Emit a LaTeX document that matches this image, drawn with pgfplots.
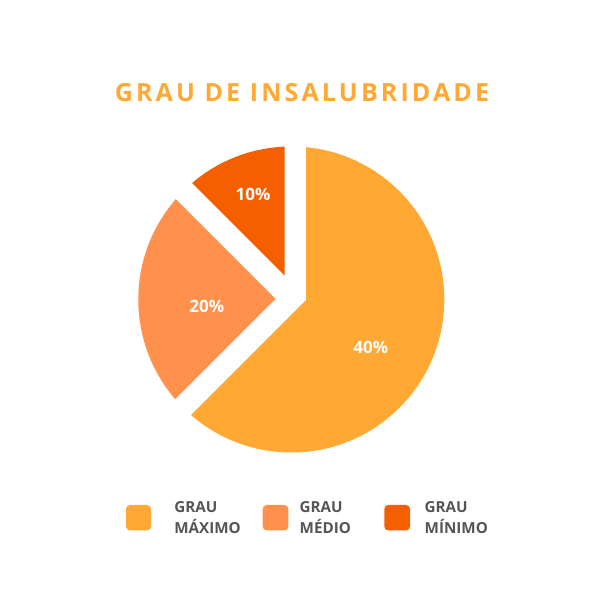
\documentclass[border=0pt]{standalone}
\usepackage{pgfplots}
\pgfplotsset{compat=1.18}
\usepackage{fontspec}
\setmainfont{Open Sans}
\newfontfamily\titlefont{Open Sans}[LetterSpace=12.5]
\definecolor{cMax}{HTML}{FFA834}
\definecolor{cMed}{HTML}{FF914D}
\definecolor{cMin}{HTML}{F55F00}
\definecolor{legtext}{HTML}{555555}
\definecolor{titlec}{HTML}{FFA834}
\begin{document}
\begin{tikzpicture}
% shares of the circle (per cent of 360 degrees)
\def\vMax{62.5}\def\vMed{25}\def\vMin{12.5}
\pgfmathsetmacro\aA{90}
\pgfmathsetmacro\aB{\aA-3.6*\vMax}
\pgfmathsetmacro\aC{\aB-3.6*\vMed}
\pgfmathsetmacro\aD{\aC-3.6*\vMin}
\begin{axis}[x=0.5pt,y=0.5pt,xmin=0,xmax=600,ymin=-600,ymax=0,
  hide axis,clip=false]
\path (axis cs:0,0) (axis cs:600,-600);
\begin{scope}
\clip (axis cs:291.3,-299.5) circle[radius=76.5pt];
\fill[cMax] (axis cs:306,-300) -- ++(\aA:100pt) arc[start angle=\aA,end angle=\aB,radius=100pt] -- cycle;
\fill[cMed] (axis cs:275.5,-299) -- ++(\aB:100pt) arc[start angle=\aB,end angle=\aC,radius=100pt] -- cycle;
\fill[cMin] (axis cs:284.7,-275.5) -- ++(\aC:100pt) arc[start angle=\aC,end angle=\aD,radius=100pt] -- cycle;
\end{scope}
\addplot[draw=none,mark=none,point meta=explicit symbolic,
  nodes near coords={\pgfplotspointmeta\%},
  every node near coord/.append style={anchor=center,text=white,inner sep=0pt,
    font=\bfseries\fontsize{8.5}{9}\selectfont}]
  table[meta=lab]{
x y lab
370.7 -347.3 40
206.7 -306.7 20
253 -194 10
};
% title
\node[anchor=base,text=titlec,inner sep=0pt,font=\titlefont\bfseries\fontsize{12.5}{13}\selectfont]
  at (axis cs:302,-102) {GRAU DE INSALUBRIDADE};
% legend
\fill[cMax,rounded corners=2pt] (axis cs:126,-505) rectangle (axis cs:151,-530.5);
\fill[cMed,rounded corners=2pt] (axis cs:262.7,-505) rectangle (axis cs:288.3,-530.5);
\fill[cMin,rounded corners=2pt] (axis cs:384.3,-505) rectangle (axis cs:410,-530.5);
\begin{scope}[every node/.style={anchor=base west,inner sep=0pt,text=legtext,font=\bfseries\fontsize{7.6}{9}\selectfont}]
\node at (axis cs:174,-512.3) {GRAU};
\node at (axis cs:174,-533.3) {MÁXIMO};
\node at (axis cs:299.3,-512.3) {GRAU};
\node at (axis cs:299.3,-533.3) {MÉDIO};
\node at (axis cs:424.3,-512.3) {GRAU};
\node at (axis cs:424.3,-533.3) {MÍNIMO};
\end{scope}
\end{axis}
\end{tikzpicture}
\end{document}
